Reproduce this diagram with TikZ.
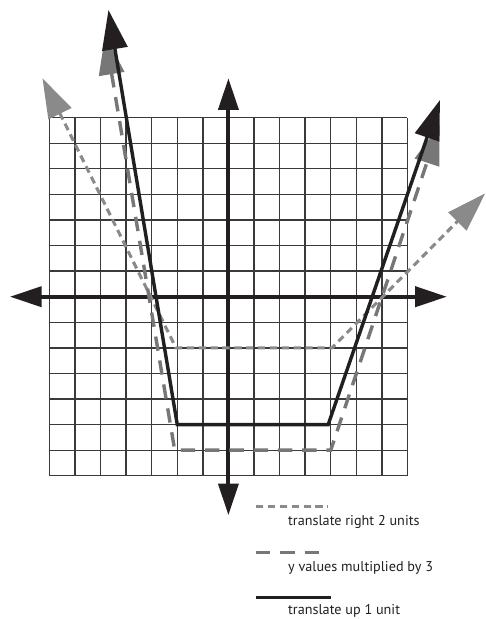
\documentclass[tikz,border=0pt]{standalone}
\usepackage{fontspec}
\setsansfont{PT Sans}
\usetikzlibrary{arrows.meta}
\definecolor{ink}{HTML}{231F20}
\definecolor{dotgray}{HTML}{8A8A8A}
\definecolor{dashgray}{HTML}{777777}
\definecolor{gridgray}{HTML}{3A3A3A}
\tikzset{
  gridline/.style={draw=gridgray, line width=0.75pt},
  axisline/.style={
    draw=ink, line width=2.2pt,
    {Triangle[length=17.6pt, width=11.1pt]}-{Triangle[length=17.6pt, width=11.1pt]}
  },
  graphline/.style={
    draw=#1, line width=1.9pt, line join=miter,
    {Triangle[length=22pt, width=14pt, fill=#1]}-{Triangle[length=22pt, width=14pt, fill=#1]}
  },
  graphline/.default=ink,
  shiftline/.style={draw=dotgray, line width=1.7pt, dash pattern=on 4pt off 2.6pt},
  stretchline/.style={draw=dashgray, line width=1.9pt, dash pattern=on 8pt off 5.5pt},
  liftline/.style={draw=ink, line width=1.9pt},
  legendtext/.style={font=\sffamily\fontsize{7.9}{9}\selectfont, text=ink, inner sep=0pt, anchor=base west}
}
\begin{document}
\begin{tikzpicture}[x=0.5cm, y=0.5cm]
  \useasboundingbox (-8.93,-12.60) rectangle (10.04,11.60);
  % grid and axes
  \draw[gridline, step=0.5cm] (-7,-7) grid (7,7);
  \draw[axisline] (-8.54,0) -- (8.54,0);
  \draw[axisline] (0,-8.54) -- (0,8.54);
  % translate right 2 units
  \draw[graphline=dotgray, shiftline] (-7.27,8.54) -- (-2.05,-2) -- (4.05,-2) -- (10.04,4.04);
  % y values multiplied by 3
  \draw[graphline=dashgray, stretchline] (-4.82,10.23) -- (-2.1,-6) -- (4,-6) -- (8.25,6.71);
  % translate up 1 unit
  \draw[graphline=ink, liftline] (-4.69,11.21) -- (-2,-5) -- (3.9,-5) -- (8.27,7.69);
  % legend
  \draw[shiftline] (1.08,-8.21) -- (3.91,-8.21);
  \node[legendtext] (lgshift) at (2.32,-8.96) {translate right 2 units};
  \draw[stretchline] (1.08,-10.0) -- (3.69,-10.0);
  \node[legendtext] (lgstretch) at (2.32,-10.75) {y values multiplied by 3};
  \draw[liftline] (1.08,-11.76) -- (4.0,-11.76);
  \node[legendtext] (lglift) at (2.32,-12.42) {translate up 1 unit};
\end{tikzpicture}
\end{document}
